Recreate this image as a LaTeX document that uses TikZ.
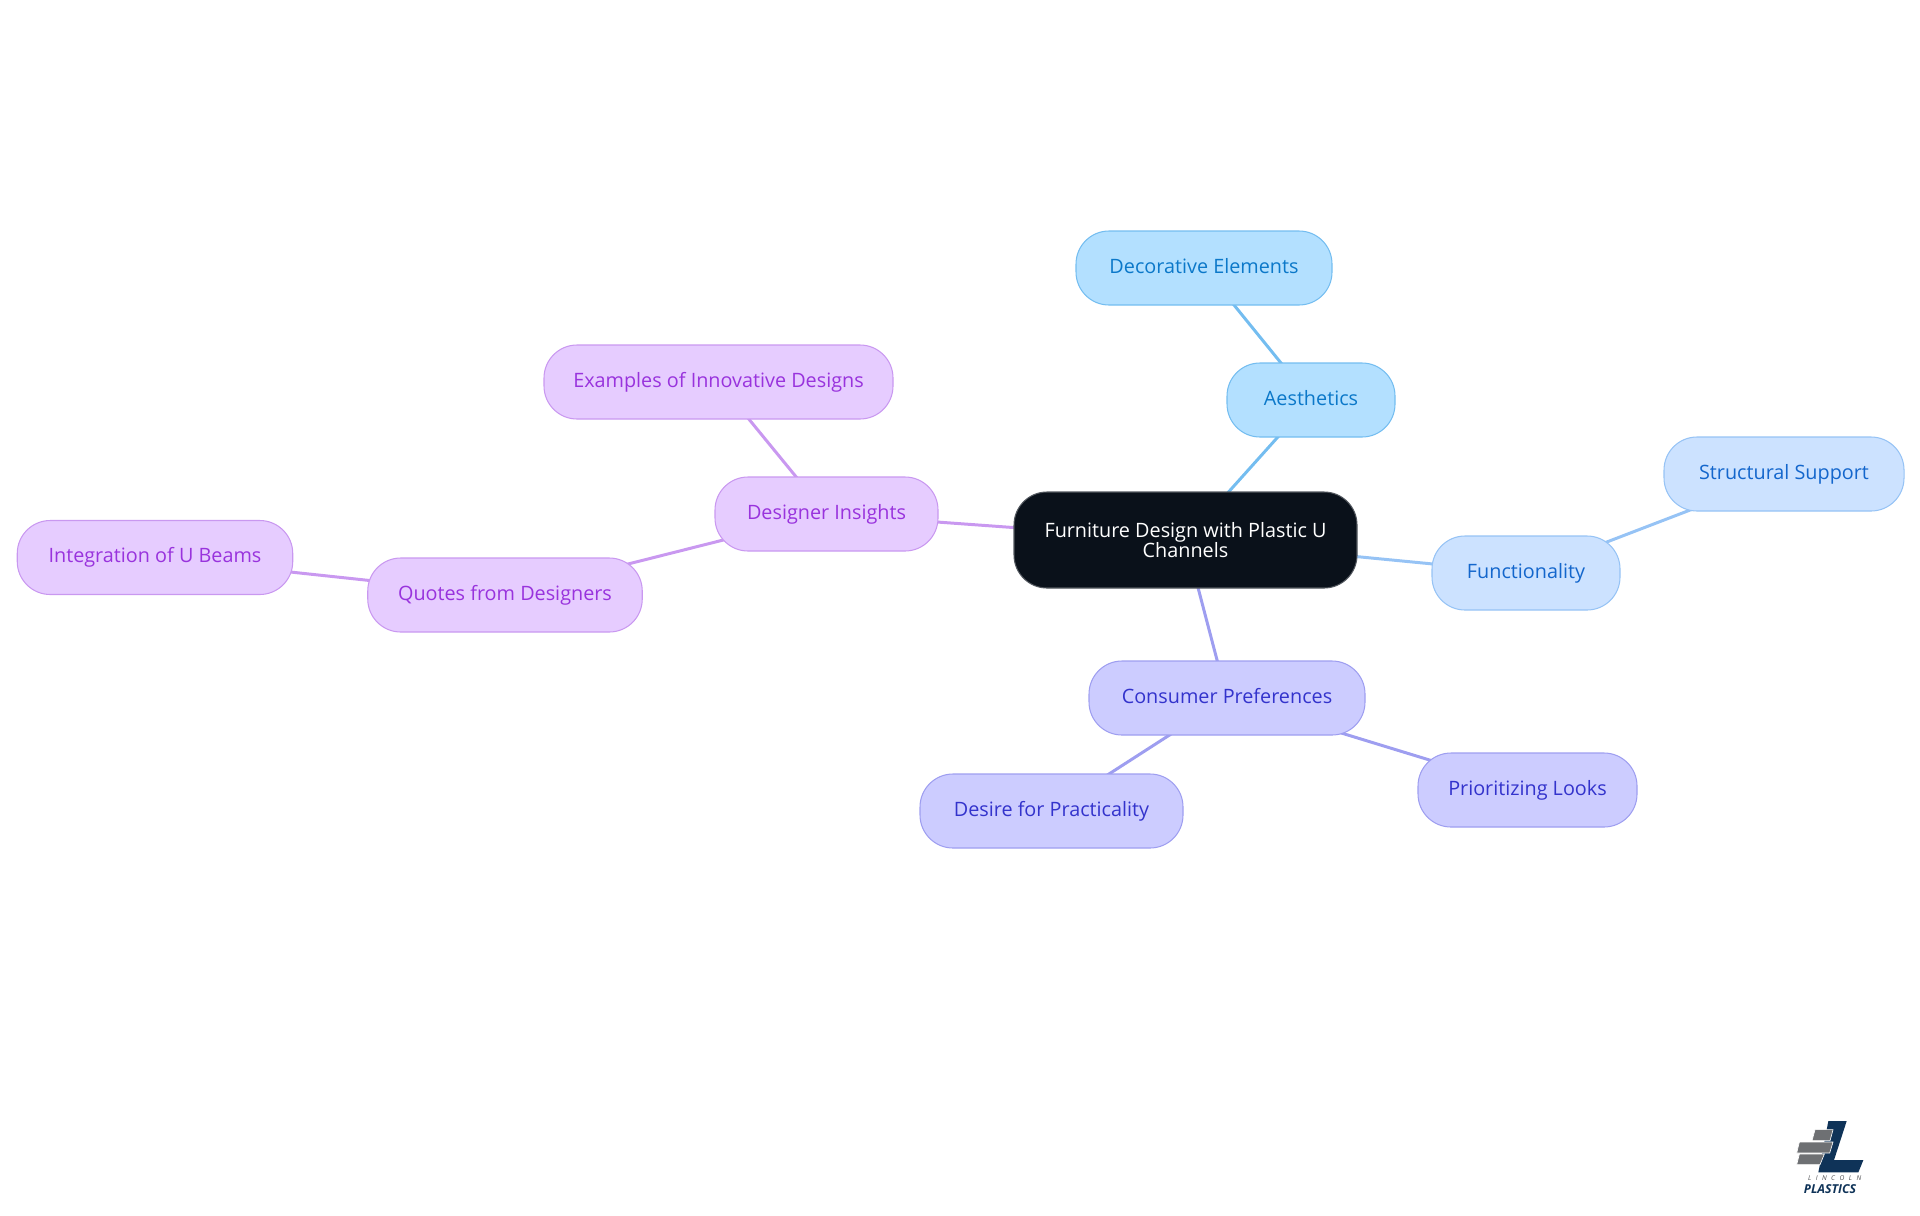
\documentclass[tikz,border=0pt]{standalone}
\usepackage{fontspec}
\setmainfont{Open Sans}
\usetikzlibrary{backgrounds}
\definecolor{rootbg}{HTML}{0A111A}
\definecolor{aesbg}{HTML}{B3E0FF}
\definecolor{aesln}{HTML}{74BDF0}
\definecolor{aestx}{HTML}{0B78C9}
\definecolor{funbg}{HTML}{CCE2FF}
\definecolor{funln}{HTML}{96C3F5}
\definecolor{funtx}{HTML}{1366CC}
\definecolor{conbg}{HTML}{CCCCFF}
\definecolor{conln}{HTML}{9E9EF0}
\definecolor{contx}{HTML}{3333CC}
\definecolor{insbg}{HTML}{E6CCFF}
\definecolor{insln}{HTML}{C998F0}
\definecolor{instx}{HTML}{9933DD}
\definecolor{logonavy}{HTML}{0F3358}
\definecolor{logogrey}{HTML}{6E7073}
\tikzset{
  topic/.style={rectangle, rounded corners=0.66cm, minimum height=1.48cm, inner sep=0pt,
    line width=0.6pt, align=center, font=\fontsize{11.27}{11.7}\selectfont},
  leaf/.style={topic, text height=8.4pt, text depth=2.6pt},
  rootn/.style={topic, fill=rootbg, draw=rootbg!70!white, text=white, minimum height=1.92cm},
  aes/.style={leaf, fill=aesbg, draw=aesln, text=aestx},
  fun/.style={leaf, fill=funbg, draw=funln, text=funtx},
  con/.style={leaf, fill=conbg, draw=conln, text=contx},
  ins/.style={leaf, fill=insbg, draw=insln, text=instx},
  link/.style={line width=1.7pt},
}

\begin{document}
\begin{tikzpicture}
\useasboundingbox (0,0) rectangle (38.4,-24.3);

% ── Centro ──────────────────────────────────────────────────
\node[rootn, minimum width=6.86cm] (root) at (23.71,-10.8) {Furniture Design with Plastic U\\Channels};

% ── Aesthetics ──────────────────────────────────────────────
\node[aes, minimum width=3.36cm] (aesth) at (26.22,-8.0) {Aesthetics};
\node[aes, minimum width=5.12cm] (deco) at (24.08,-5.36) {Decorative Elements};

% ── Functionality ───────────────────────────────────────────
\node[fun, minimum width=3.76cm] (func) at (30.52,-11.46) {Functionality};
\node[fun, minimum width=4.8cm] (struct) at (35.68,-9.48) {Structural Support};

% ── Consumer Preferences ────────────────────────────────────
\node[con, minimum width=5.52cm] (cons) at (24.54,-13.96) {Consumer Preferences};
\node[con, minimum width=5.26cm] (desire) at (21.03,-16.22) {Desire for Practicality};
\node[con, minimum width=4.38cm] (looks) at (30.55,-15.8) {Prioritizing Looks};

% ── Designer Insights ───────────────────────────────────────
\node[ins, minimum width=4.46cm] (insight) at (16.53,-10.28) {Designer Insights};
\node[ins, minimum width=6.98cm] (examples) at (14.37,-7.64) {Examples of Innovative Designs};
\node[ins, minimum width=5.49cm] (quotes) at (10.1,-11.9) {Quotes from Designers};
\node[ins, minimum width=5.51cm] (integ) at (3.1,-11.15) {Integration of U Beams};

% ── Relaciones ──────────────────────────────────────────────
\begin{pgfonlayer}{background}
  \foreach \a/\b/\c in {root/aesth/aesln, aesth/deco/aesln, root/func/funln, func/struct/funln,
      root/cons/conln, cons/desire/conln, cons/looks/conln,
      root/insight/insln, insight/examples/insln, insight/quotes/insln, quotes/integ/insln} {
    \draw[link, \c] (\a.center) -- (\b.center);
  }
\end{pgfonlayer}

% Logo
\begin{scope}[shift={(35.2,-21.9)}, x=0.00667cm, y=-0.00667cm]
  \fill[logonavy] (205,78) -- (260,78) -- (222,195) -- (310,195) -- (295,232) -- (175,232) -- cycle;
  \fill[logogrey, draw=white, line width=0.35pt] (165,104) -- (219,104) -- (210,137) -- (156,137) -- cycle;
  \fill[logogrey, draw=white, line width=0.35pt] (118,141) -- (219,141) -- (209,174) -- (110,174) -- cycle;
  \fill[logogrey, draw=white, line width=0.35pt] (118,177) -- (193,177) -- (180,209) -- (110,209) -- cycle;
  \node[text=logogrey!70!black, inner sep=0pt, font=\fontsize{3.8}{4}\selectfont\itshape] (lincoln) at (224,248) {L\,\,\,\,I\,\,\,\,N\,\,\,\,C\,\,\,\,O\,\,\,\,L\,\,\,\,N};
  \node[text=logonavy, inner sep=0pt, font=\fontsize{7}{8}\selectfont\bfseries\itshape] (plastics) at (210,281) {PLASTICS};
\end{scope}
\end{tikzpicture}
\end{document}
